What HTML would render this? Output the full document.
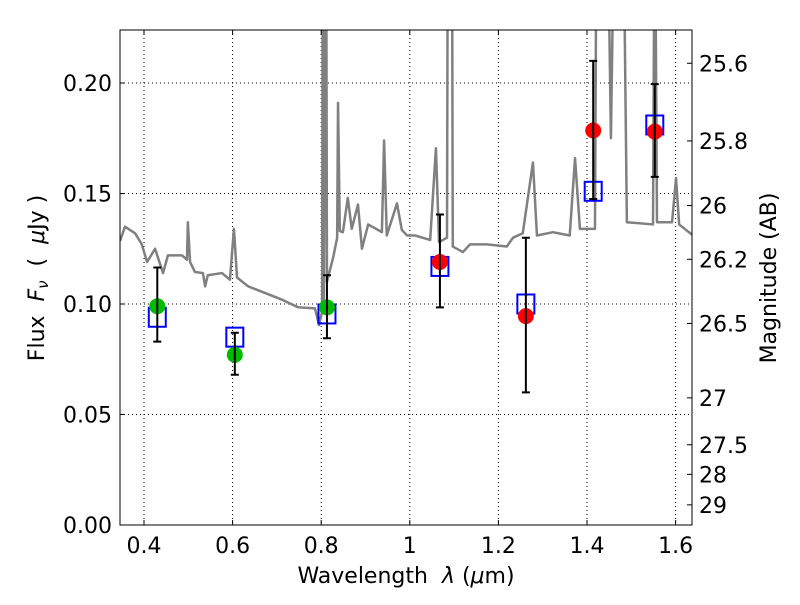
<!DOCTYPE html>
<html><head><meta charset="utf-8"><style>
body{margin:0;background:#fff}
svg{font-family:"DejaVu Sans","Liberation Sans",sans-serif}
</style></head><body>
<svg id="chart" width="800" height="600" xmlns="http://www.w3.org/2000/svg">
<defs><clipPath id="clip"><rect x="120" y="30" width="572" height="495"/></clipPath></defs>
<rect width="800" height="600" fill="#fff"/>
<g id="grid"></g>
<g id="spec" clip-path="url(#clip)"></g>
<g id="marks"></g>
<rect x="120" y="30" width="572" height="495" fill="none" stroke="#000" stroke-width="1"/>
<g id="axes"></g>
<text x="406" y="583" text-anchor="middle" font-size="22" xml:space="preserve">Wavelength  <tspan font-style="italic">λ</tspan> (<tspan font-style="italic">μ</tspan>m)</text>
<text transform="translate(44,278) rotate(-90)" text-anchor="middle" font-size="22" xml:space="preserve">Flux  <tspan font-style="italic">F</tspan><tspan font-style="italic" font-size="15" dy="4">ν</tspan><tspan dy="-4">  (  </tspan><tspan font-style="italic">μ</tspan>Jy )</text>
<text transform="translate(776,278) rotate(-90)" text-anchor="middle" font-size="22">Magnitude (AB)</text>
</svg>
<script>
const specW=[0.346,0.357,0.380,0.395,0.407,0.425,0.443,0.454,0.486,0.497,0.499,0.504,0.515,0.533,0.538,0.544,0.576,0.594,0.603,0.610,0.635,0.673,0.711,0.748,0.786,0.795,0.802,0.804,0.806,0.811,0.813,0.818,0.827,0.836,0.838,0.842,0.849,0.860,0.869,0.883,0.892,0.906,0.937,0.942,0.948,0.971,0.982,0.994,1.012,1.046,1.059,1.066,1.084,1.086,1.095,1.097,1.120,1.136,1.174,1.219,1.233,1.255,1.278,1.287,1.323,1.361,1.373,1.384,1.418,1.422,1.445,1.454,1.463,1.481,1.490,1.549,1.553,1.558,1.565,1.592,1.601,1.608,1.633,1.640];
const specF=[0.1285,0.135,0.132,0.127,0.119,0.125,0.114,0.122,0.122,0.120,0.137,0.119,0.1145,0.114,0.108,0.113,0.114,0.111,0.134,0.112,0.108,0.105,0.102,0.0985,0.098,0.0905,0.0965,0.30,0.100,0.30,0.110,0.114,0.121,0.130,0.191,0.133,0.1325,0.148,0.134,0.145,0.125,0.136,0.1325,0.174,0.131,0.1455,0.1335,0.131,0.131,0.129,0.1705,0.128,0.130,0.30,0.30,0.126,0.1235,0.127,0.127,0.126,0.130,0.132,0.164,0.131,0.1325,0.131,0.166,0.134,0.134,0.30,0.30,0.175,0.30,0.30,0.137,0.136,0.30,0.137,0.137,0.137,0.157,0.136,0.132,0.131];
const ptW=[0.43,0.605,0.813,1.068,1.262,1.414,1.553];
const ptF=[0.099,0.077,0.0985,0.119,0.0945,0.1785,0.178];
const errHi=[0.1165,0.087,0.113,0.1405,0.130,0.210,0.1995];
const errLo=[0.083,0.068,0.0845,0.0985,0.060,0.1475,0.1575];
const modelF=[0.094,0.085,0.0955,0.117,0.100,0.151,0.181];
const ptColor=['#00bb00','#00bb00','#00bb00','#ff0000','#ff0000','#ff0000','#ff0000'];
const xTicks=[0.4,0.6,0.8,1.0,1.2,1.4,1.6];
const xLabels=['0.4','0.6','0.8','1','1.2','1.4','1.6'];
const yTicks=[0,0.05,0.10,0.15,0.20];
const yLabels=['0.00','0.05','0.10','0.15','0.20'];
const magTicks=[25.6,25.8,26,26.2,26.5,27,27.5,28,29];
const magLabels=['25.6','25.8','26','26.2','26.5','27','27.5','28','29'];
const X=w=>144+(w-0.4)*443;
const Y=f=>525-f*2210;
const NS='http://www.w3.org/2000/svg';
function mk(p,t,a){const e=document.createElementNS(NS,t);for(const k in a)e.setAttribute(k,a[k]);p.appendChild(e);return e;}
const grid=document.getElementById('grid'),axes=document.getElementById('axes');
xTicks.forEach((t,i)=>{const x=X(t);
 const g=mk(grid,'line',{x1:x,x2:x,y1:30,y2:525,stroke:'#000','stroke-dasharray':'1,3','stroke-width':1});
 
 mk(axes,'line',{x1:x,x2:x,y1:525,y2:520,stroke:'#000'});mk(axes,'line',{x1:x,x2:x,y1:30,y2:35,stroke:'#000'});
 const l=mk(axes,'text',{x:x,y:553,'text-anchor':'middle','font-size':22});l.textContent=xLabels[i];
 });
yTicks.forEach((t,i)=>{const y=Y(t);
 const g=mk(grid,'line',{x1:120,x2:692,y1:y,y2:y,stroke:'#000','stroke-dasharray':'1,3','stroke-width':1});
 
 mk(axes,'line',{x1:120,x2:125,y1:y,y2:y,stroke:'#000'});
 const l=mk(axes,'text',{x:112,y:y+8,'text-anchor':'end','font-size':22});l.textContent=yLabels[i];
 });
magTicks.forEach((m,i)=>{const y=Y(Math.pow(10,(23.9-m)/2.5));
 mk(axes,'line',{x1:687,x2:692,y1:y,y2:y,stroke:'#000'});
 const l=mk(axes,'text',{x:699,y:y+8,'font-size':22});l.textContent=magLabels[i];
 });
const spec=document.getElementById('spec');
const pl=mk(spec,'polyline',{points:specW.map((w,i)=>X(w)+','+Y(specF[i])).join(' '),fill:'none',stroke:'#808080','stroke-width':2.5,'stroke-linejoin':'round'});

const marks=document.getElementById('marks');
ptW.forEach((w,i)=>{const x=X(w);
 const b=mk(marks,'rect',{x:x-8.5,y:Y(modelF[i])-9.5,width:17,height:19,fill:'none',stroke:'#0000ff','stroke-width':2});
 
 const c=mk(marks,'circle',{cx:x,cy:Y(ptF[i]),r:8,fill:ptColor[i]});
 
 const yh=Y(errHi[i]),yl=Y(errLo[i]);
 const e=mk(marks,'path',{d:`M${x},${yh}V${yl}M${x-4},${yh}H${x+4}M${x-4},${yl}H${x+4}`,stroke:'#000','stroke-width':2,fill:'none'});
 });
</script>
</body></html>
